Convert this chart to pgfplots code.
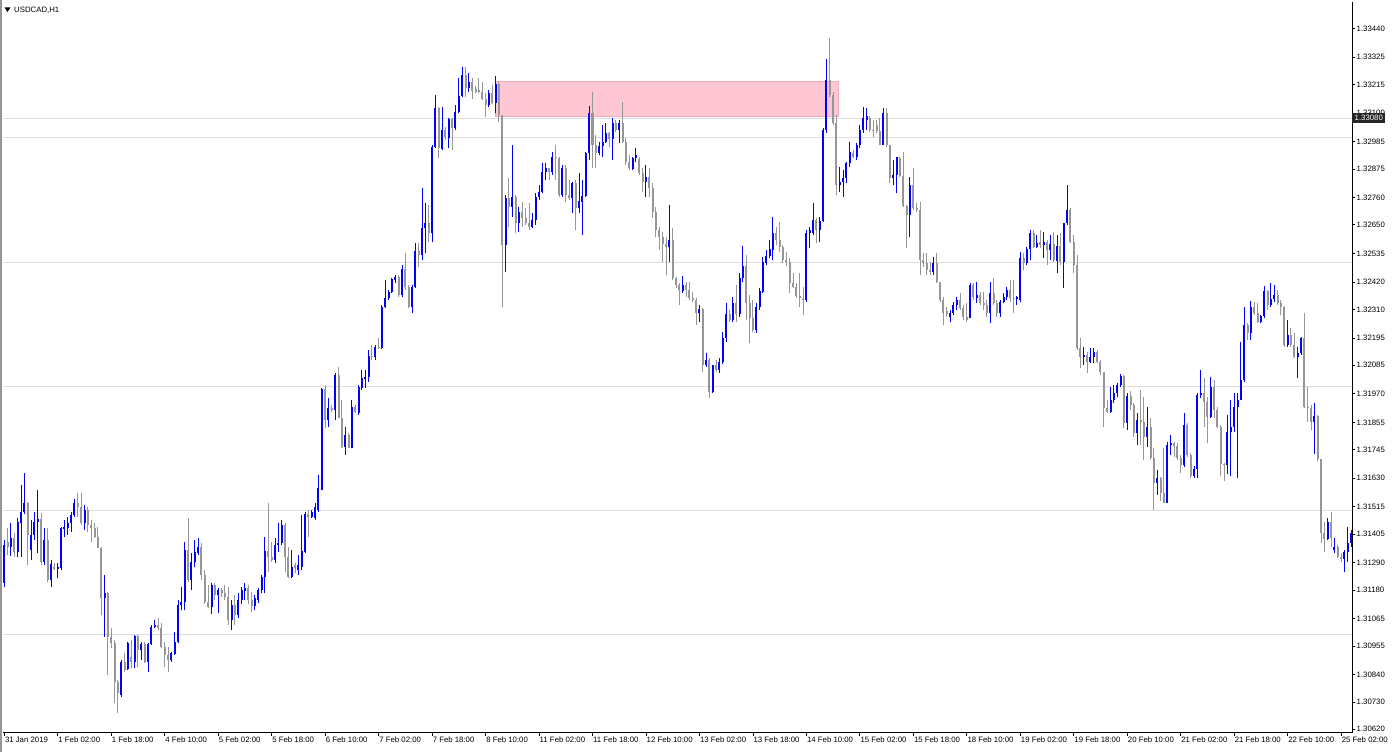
\documentclass[border=0pt]{standalone}
\usepackage{fontspec}
\setmainfont{Liberation Sans}
\usepackage{pgfplots}
\usepackage{pgfplotstable}
\pgfplotsset{compat=1.18}
\definecolor{cblue}{RGB}{0,0,255}
\definecolor{cgray}{RGB}{150,150,150}
\definecolor{gridc}{RGB}{222,222,222}
\definecolor{pinkfill}{RGB}{255,199,212}
\definecolor{pinkedge}{RGB}{240,170,190}
\pgfplotsset{candle/.style={only marks, mark=*, mark size=0pt, mark options={draw=none, fill=none}, forget plot,
  error bars/.cd, y dir=plus, y explicit, error mark=none}}
\pgfplotstableread{
i o h l c
0 1.31209 1.31382 1.31193 1.31362
1 1.31374 1.31430 1.31322 1.31354
2 1.31354 1.31450 1.31318 1.31390
3 1.31390 1.31410 1.31314 1.31334
4 1.31334 1.31471 1.31314 1.31454
5 1.31450 1.31603 1.31314 1.31495
6 1.31495 1.31652 1.31487 1.31531
7 1.31531 1.31535 1.31281 1.31402
8 1.31342 1.31463 1.31302 1.31402
9 1.31402 1.31495 1.31382 1.31454
10 1.31454 1.31583 1.31330 1.31467
11 1.31467 1.31491 1.31281 1.31294
12 1.31294 1.31430 1.31281 1.31382
13 1.31382 1.31430 1.31213 1.31221
14 1.31221 1.31302 1.31193 1.31285
15 1.31273 1.31289 1.31261 1.31265
16 1.31265 1.31289 1.31229 1.31273
17 1.31269 1.31434 1.31261 1.31430
18 1.31426 1.31463 1.31394 1.31434
19 1.31430 1.31475 1.31402 1.31450
20 1.31450 1.31495 1.31414 1.31483
21 1.31483 1.31547 1.31475 1.31531
22 1.31531 1.31571 1.31475 1.31515
23 1.31515 1.31571 1.31442 1.31450
24 1.31450 1.31523 1.31422 1.31503
25 1.31503 1.31515 1.31414 1.31442
26 1.31442 1.31463 1.31374 1.31430
27 1.31430 1.31450 1.31390 1.31394
28 1.31394 1.31434 1.31350 1.31350
29 1.31350 1.31354 1.31080 1.31149
30 1.31149 1.31241 1.30992 1.31169
31 1.31169 1.31173 1.30839 1.30992
32 1.30992 1.31028 1.30947 1.30968
33 1.30968 1.30980 1.30726 1.30811
34 1.30811 1.30819 1.30686 1.30766
35 1.30758 1.30899 1.30750 1.30891
36 1.30891 1.30927 1.30851 1.30859
37 1.30863 1.30972 1.30859 1.30968
38 1.30911 1.30980 1.30867 1.30891
39 1.30891 1.31000 1.30867 1.30996
40 1.30996 1.31000 1.30871 1.30939
41 1.30939 1.30972 1.30899 1.30964
42 1.30964 1.30972 1.30887 1.30891
43 1.30891 1.30968 1.30851 1.30964
44 1.30964 1.31040 1.30960 1.31032
45 1.31032 1.31060 1.31028 1.31040
46 1.31040 1.31068 1.31020 1.31028
47 1.31028 1.31048 1.30947 1.30951
48 1.30951 1.30972 1.30871 1.30919
49 1.30919 1.30951 1.30851 1.30899
50 1.30899 1.30931 1.30891 1.30927
51 1.30923 1.31012 1.30919 1.30972
52 1.30972 1.31141 1.30968 1.31120
53 1.31120 1.31193 1.31100 1.31133
54 1.31133 1.31374 1.31100 1.31342
55 1.31342 1.31471 1.31213 1.31221
56 1.31221 1.31330 1.31181 1.31294
57 1.31294 1.31382 1.31273 1.31334
58 1.31330 1.31390 1.31322 1.31354
59 1.31354 1.31370 1.31221 1.31241
60 1.31241 1.31261 1.31124 1.31133
61 1.31133 1.31201 1.31108 1.31112
62 1.31112 1.31209 1.31084 1.31201
63 1.31201 1.31209 1.31141 1.31161
64 1.31161 1.31189 1.31088 1.31181
65 1.31181 1.31189 1.31153 1.31169
66 1.31169 1.31201 1.31141 1.31153
67 1.31153 1.31193 1.31040 1.31060
68 1.31060 1.31141 1.31020 1.31120
69 1.31120 1.31161 1.31040 1.31080
70 1.31080 1.31169 1.31068 1.31141
71 1.31141 1.31193 1.31124 1.31181
72 1.31177 1.31209 1.31141 1.31189
73 1.31189 1.31201 1.31124 1.31141
74 1.31141 1.31173 1.31092 1.31116
75 1.31116 1.31161 1.31100 1.31149
76 1.31141 1.31189 1.31128 1.31181
77 1.31181 1.31241 1.31169 1.31233
78 1.31233 1.31394 1.31169 1.31338
79 1.31338 1.31531 1.31253 1.31314
80 1.31314 1.31374 1.31294 1.31302
81 1.31302 1.31390 1.31289 1.31362
82 1.31362 1.31450 1.31334 1.31370
83 1.31370 1.31463 1.31362 1.31442
84 1.31442 1.31450 1.31253 1.31314
85 1.31314 1.31354 1.31229 1.31233
86 1.31233 1.31342 1.31229 1.31273
87 1.31281 1.31289 1.31249 1.31269
88 1.31261 1.31322 1.31241 1.31281
89 1.31273 1.31483 1.31261 1.31338
90 1.31334 1.31495 1.31330 1.31487
91 1.31487 1.31503 1.31394 1.31475
92 1.31475 1.31503 1.31471 1.31495
93 1.31471 1.31531 1.31463 1.31515
94 1.31503 1.31644 1.31495 1.31591
95 1.31583 1.31994 1.31583 1.31990
96 1.31990 1.32006 1.31833 1.31865
97 1.31865 1.31953 1.31837 1.31913
98 1.31913 1.31925 1.31897 1.31905
99 1.31905 1.32054 1.31865 1.32046
100 1.32046 1.32078 1.31873 1.31873
101 1.31873 1.31945 1.31752 1.31756
102 1.31756 1.31837 1.31724 1.31805
103 1.31805 1.31813 1.31752 1.31752
104 1.31752 1.31945 1.31752 1.31917
105 1.31917 1.31925 1.31893 1.31897
106 1.31893 1.32006 1.31885 1.31998
107 1.31994 1.32066 1.31986 1.32034
108 1.32030 1.32066 1.31994 1.32038
109 1.32038 1.32147 1.32018 1.32122
110 1.32122 1.32167 1.32106 1.32118
111 1.32118 1.32167 1.32106 1.32159
112 1.32159 1.32195 1.32151 1.32155
113 1.32155 1.32328 1.32151 1.32320
114 1.32320 1.32428 1.32316 1.32356
115 1.32356 1.32388 1.32348 1.32380
116 1.32380 1.32436 1.32376 1.32432
117 1.32428 1.32448 1.32416 1.32440
118 1.32440 1.32448 1.32360 1.32368
119 1.32368 1.32489 1.32360 1.32473
120 1.32473 1.32537 1.32388 1.32400
121 1.32400 1.32408 1.32316 1.32320
122 1.32320 1.32408 1.32295 1.32400
123 1.32400 1.32577 1.32396 1.32545
124 1.32545 1.32577 1.32481 1.32529
125 1.32529 1.32798 1.32509 1.32638
126 1.32638 1.32738 1.32537 1.32658
127 1.32658 1.32730 1.32581 1.32617
128 1.32617 1.32972 1.32581 1.32963
129 1.32963 1.33173 1.32959 1.33120
130 1.33120 1.33124 1.32919 1.32959
131 1.32955 1.33124 1.32951 1.33032
132 1.33032 1.33044 1.32992 1.33004
133 1.33000 1.33080 1.32959 1.33076
134 1.33076 1.33080 1.32951 1.33040
135 1.33040 1.33132 1.33032 1.33104
136 1.33104 1.33241 1.33100 1.33169
137 1.33169 1.33285 1.33165 1.33253
138 1.33253 1.33285 1.33165 1.33201
139 1.33201 1.33261 1.33185 1.33225
140 1.33225 1.33241 1.33157 1.33189
141 1.33197 1.33209 1.33181 1.33185
142 1.33193 1.33241 1.33181 1.33185
143 1.33185 1.33225 1.33153 1.33157
144 1.33157 1.33181 1.33084 1.33132
145 1.33132 1.33193 1.33124 1.33181
146 1.33181 1.33213 1.33136 1.33140
147 1.33140 1.33249 1.33100 1.33217
148 1.33217 1.33225 1.33064 1.33092
149 1.33092 1.33092 1.32320 1.32569
150 1.32569 1.32770 1.32461 1.32758
151 1.32758 1.32839 1.32642 1.32722
152 1.32722 1.32972 1.32682 1.32762
153 1.32762 1.32770 1.32617 1.32658
154 1.32658 1.32722 1.32621 1.32703
155 1.32703 1.32742 1.32642 1.32678
156 1.32678 1.32718 1.32650 1.32658
157 1.32658 1.32738 1.32630 1.32642
158 1.32642 1.32699 1.32638 1.32670
159 1.32670 1.32778 1.32650 1.32762
160 1.32762 1.32811 1.32750 1.32782
161 1.32782 1.32899 1.32778 1.32863
162 1.32863 1.32899 1.32831 1.32879
163 1.32879 1.32879 1.32831 1.32863
164 1.32863 1.32943 1.32851 1.32923
165 1.32923 1.32972 1.32831 1.32919
166 1.32919 1.32923 1.32762 1.32770
167 1.32770 1.32891 1.32762 1.32879
168 1.32879 1.32891 1.32742 1.32770
169 1.32770 1.32831 1.32750 1.32758
170 1.32758 1.32823 1.32699 1.32819
171 1.32819 1.32831 1.32630 1.32718
172 1.32718 1.32859 1.32699 1.32746
173 1.32742 1.32831 1.32609 1.32766
174 1.32766 1.32943 1.32762 1.32939
175 1.32939 1.33128 1.32911 1.33100
176 1.33100 1.33185 1.32879 1.32972
177 1.32972 1.33012 1.32879 1.32939
178 1.32939 1.32984 1.32931 1.32967
179 1.32967 1.33052 1.32923 1.32984
180 1.32984 1.33060 1.32980 1.33020
181 1.33020 1.33024 1.32963 1.32996
182 1.32996 1.33080 1.32911 1.33060
183 1.33060 1.33072 1.33024 1.33032
184 1.33032 1.33072 1.32980 1.33060
185 1.33060 1.33144 1.32980 1.32984
186 1.32984 1.33000 1.32891 1.32903
187 1.32903 1.32931 1.32871 1.32879
188 1.32875 1.32923 1.32871 1.32919
189 1.32919 1.32959 1.32903 1.32931
190 1.32915 1.32923 1.32851 1.32859
191 1.32859 1.32879 1.32782 1.32823
192 1.32823 1.32891 1.32762 1.32843
193 1.32843 1.32879 1.32762 1.32798
194 1.32798 1.32819 1.32678 1.32703
195 1.32703 1.32722 1.32601 1.32630
196 1.32630 1.32642 1.32549 1.32601
197 1.32601 1.32621 1.32501 1.32573
198 1.32573 1.32601 1.32448 1.32561
199 1.32561 1.32730 1.32501 1.32589
200 1.32589 1.32638 1.32428 1.32436
201 1.32436 1.32440 1.32396 1.32408
202 1.32408 1.32416 1.32328 1.32388
203 1.32384 1.32444 1.32376 1.32408
204 1.32408 1.32420 1.32360 1.32388
205 1.32388 1.32420 1.32348 1.32356
206 1.32356 1.32380 1.32340 1.32348
207 1.32348 1.32356 1.32247 1.32295
208 1.32295 1.32328 1.32259 1.32312
209 1.32312 1.32316 1.32058 1.32086
210 1.32086 1.32135 1.32078 1.32106
211 1.32106 1.32114 1.31953 1.31978
212 1.31978 1.32086 1.31974 1.32086
213 1.32086 1.32106 1.32058 1.32066
214 1.32066 1.32114 1.32054 1.32098
215 1.32098 1.32219 1.32090 1.32195
216 1.32195 1.32336 1.32179 1.32291
217 1.32291 1.32308 1.32259 1.32267
218 1.32267 1.32360 1.32259 1.32336
219 1.32336 1.32408 1.32259 1.32291
220 1.32291 1.32456 1.32279 1.32436
221 1.32436 1.32565 1.32420 1.32485
222 1.32485 1.32529 1.32267 1.32336
223 1.32336 1.32368 1.32175 1.32275
224 1.32275 1.32348 1.32219 1.32227
225 1.32227 1.32336 1.32215 1.32320
226 1.32320 1.32396 1.32308 1.32384
227 1.32380 1.32521 1.32376 1.32501
228 1.32497 1.32549 1.32489 1.32525
229 1.32525 1.32589 1.32517 1.32553
230 1.32549 1.32682 1.32509 1.32617
231 1.32617 1.32642 1.32569 1.32589
232 1.32589 1.32662 1.32541 1.32561
233 1.32561 1.32569 1.32497 1.32509
234 1.32509 1.32541 1.32485 1.32501
235 1.32501 1.32517 1.32376 1.32416
236 1.32416 1.32456 1.32396 1.32400
237 1.32400 1.32416 1.32356 1.32364
238 1.32364 1.32456 1.32320 1.32356
239 1.32356 1.32400 1.32287 1.32348
240 1.32348 1.32630 1.32340 1.32617
241 1.32617 1.32642 1.32557 1.32630
242 1.32617 1.32738 1.32609 1.32670
243 1.32670 1.32678 1.32577 1.32630
244 1.32630 1.32682 1.32581 1.32666
245 1.32666 1.33040 1.32662 1.33032
246 1.33032 1.33318 1.33020 1.33233
247 1.33233 1.33402 1.33165 1.33173
248 1.33173 1.33185 1.33052 1.33060
249 1.33060 1.33092 1.32770 1.32811
250 1.32811 1.32883 1.32782 1.32823
251 1.32823 1.32871 1.32762 1.32839
252 1.32839 1.32903 1.32819 1.32899
253 1.32899 1.32984 1.32883 1.32943
254 1.32939 1.32951 1.32919 1.32923
255 1.32923 1.32980 1.32911 1.32972
256 1.32972 1.33052 1.32959 1.33032
257 1.33032 1.33124 1.33020 1.33080
258 1.33072 1.33120 1.33032 1.33088
259 1.33080 1.33088 1.33024 1.33032
260 1.33032 1.33072 1.33004 1.33028
261 1.33052 1.33072 1.33020 1.33028
262 1.33028 1.33080 1.32970 1.32972
263 1.32972 1.33120 1.32972 1.33100
264 1.33100 1.33120 1.32963 1.32972
265 1.32972 1.32972 1.32819 1.32839
266 1.32839 1.32911 1.32811 1.32851
267 1.32851 1.32923 1.32778 1.32923
268 1.32919 1.32923 1.32843 1.32847
269 1.32847 1.32943 1.32722 1.32726
270 1.32726 1.32730 1.32557 1.32690
271 1.32690 1.32843 1.32601 1.32811
272 1.32811 1.32879 1.32710 1.32718
273 1.32718 1.32738 1.32703 1.32710
274 1.32710 1.32742 1.32448 1.32509
275 1.32509 1.32537 1.32481 1.32497
276 1.32497 1.32537 1.32448 1.32469
277 1.32469 1.32501 1.32448 1.32461
278 1.32461 1.32521 1.32448 1.32497
279 1.32497 1.32537 1.32416 1.32420
280 1.32420 1.32420 1.32340 1.32348
281 1.32348 1.32360 1.32247 1.32295
282 1.32303 1.32320 1.32279 1.32291
283 1.32279 1.32308 1.32259 1.32295
284 1.32295 1.32340 1.32287 1.32328
285 1.32328 1.32360 1.32308 1.32348
286 1.32348 1.32376 1.32308 1.32316
287 1.32316 1.32328 1.32267 1.32279
288 1.32279 1.32336 1.32259 1.32267
289 1.32275 1.32416 1.32275 1.32408
290 1.32408 1.32416 1.32348 1.32360
291 1.32356 1.32420 1.32336 1.32368
292 1.32368 1.32380 1.32328 1.32336
293 1.32336 1.32380 1.32308 1.32328
294 1.32328 1.32348 1.32279 1.32295
295 1.32295 1.32420 1.32255 1.32376
296 1.32376 1.32436 1.32328 1.32336
297 1.32336 1.32348 1.32279 1.32295
298 1.32295 1.32348 1.32279 1.32340
299 1.32340 1.32376 1.32336 1.32360
300 1.32360 1.32400 1.32348 1.32388
301 1.32388 1.32428 1.32340 1.32356
302 1.32356 1.32428 1.32295 1.32352
303 1.32352 1.32364 1.32328 1.32360
304 1.32348 1.32541 1.32340 1.32517
305 1.32517 1.32537 1.32469 1.32497
306 1.32497 1.32561 1.32489 1.32553
307 1.32553 1.32630 1.32509 1.32617
308 1.32617 1.32630 1.32557 1.32561
309 1.32561 1.32609 1.32557 1.32577
310 1.32581 1.32630 1.32557 1.32569
311 1.32569 1.32621 1.32517 1.32581
312 1.32581 1.32589 1.32489 1.32549
313 1.32549 1.32609 1.32509 1.32573
314 1.32573 1.32621 1.32501 1.32509
315 1.32505 1.32609 1.32456 1.32565
316 1.32565 1.32617 1.32489 1.32501
317 1.32501 1.32658 1.32396 1.32658
318 1.32658 1.32811 1.32650 1.32710
319 1.32710 1.32718 1.32577 1.32581
320 1.32581 1.32609 1.32456 1.32489
321 1.32489 1.32529 1.32147 1.32155
322 1.32155 1.32195 1.32074 1.32118
323 1.32118 1.32159 1.32086 1.32126
324 1.32126 1.32139 1.32054 1.32098
325 1.32098 1.32155 1.32094 1.32118
326 1.32118 1.32155 1.32094 1.32139
327 1.32139 1.32147 1.32094 1.32098
328 1.32098 1.32106 1.32046 1.32058
329 1.32058 1.32058 1.31837 1.31913
330 1.31913 1.31945 1.31893 1.31897
331 1.31897 1.31998 1.31893 1.31945
332 1.31945 1.32006 1.31933 1.31974
333 1.31974 1.32014 1.31957 1.32006
334 1.32006 1.32050 1.31998 1.32042
335 1.32042 1.32046 1.31833 1.31853
336 1.31853 1.31974 1.31825 1.31961
337 1.31961 1.31982 1.31905 1.31925
338 1.31925 1.31933 1.31797 1.31813
339 1.31813 1.31893 1.31764 1.31865
340 1.31865 1.31986 1.31764 1.31857
341 1.31857 1.31957 1.31704 1.31797
342 1.31797 1.31917 1.31756 1.31837
343 1.31837 1.31873 1.31704 1.31712
344 1.31712 1.31752 1.31503 1.31611
345 1.31611 1.31663 1.31563 1.31631
346 1.31631 1.31635 1.31539 1.31571
347 1.31571 1.31752 1.31531 1.31531
348 1.31531 1.31776 1.31531 1.31764
349 1.31764 1.31805 1.31724 1.31772
350 1.31772 1.31776 1.31716 1.31760
351 1.31760 1.31772 1.31704 1.31712
352 1.31712 1.31724 1.31652 1.31684
353 1.31684 1.31893 1.31676 1.31845
354 1.31845 1.31853 1.31716 1.31724
355 1.31724 1.31732 1.31631 1.31639
356 1.31639 1.31680 1.31631 1.31668
357 1.31668 1.31974 1.31631 1.31965
358 1.31965 1.32066 1.31953 1.31974
359 1.31974 1.32034 1.31837 1.31937
360 1.31937 1.31957 1.31772 1.31877
361 1.31877 1.32038 1.31873 1.31998
362 1.31998 1.32026 1.31873 1.31905
363 1.31905 1.31917 1.31833 1.31837
364 1.31837 1.31845 1.31639 1.31688
365 1.31688 1.31692 1.31619 1.31684
366 1.31684 1.31885 1.31648 1.31817
367 1.31817 1.31945 1.31639 1.31837
368 1.31837 1.31974 1.31817 1.31917
369 1.31917 1.31974 1.31631 1.31945
370 1.31945 1.32179 1.31945 1.32026
371 1.32026 1.32320 1.32018 1.32247
372 1.32247 1.32255 1.32187 1.32215
373 1.32215 1.32344 1.32187 1.32320
374 1.32320 1.32340 1.32287 1.32295
375 1.32295 1.32336 1.32255 1.32259
376 1.32259 1.32287 1.32255 1.32283
377 1.32283 1.32404 1.32275 1.32384
378 1.32384 1.32388 1.32308 1.32328
379 1.32328 1.32416 1.32320 1.32352
380 1.32352 1.32408 1.32340 1.32368
381 1.32368 1.32388 1.32328 1.32336
382 1.32336 1.32348 1.32287 1.32320
383 1.32320 1.32324 1.32159 1.32167
384 1.32167 1.32267 1.32159 1.32207
385 1.32207 1.32235 1.32159 1.32167
386 1.32167 1.32215 1.32114 1.32118
387 1.32118 1.32159 1.32034 1.32135
388 1.32135 1.32199 1.32126 1.32195
389 1.32195 1.32295 1.31913 1.31917
390 1.31917 1.31998 1.31857 1.31913
391 1.31913 1.31925 1.31825 1.31857
392 1.31857 1.31933 1.31728 1.31881
393 1.31881 1.31885 1.31700 1.31708
394 1.31708 1.31708 1.31370 1.31410
395 1.31410 1.31454 1.31334 1.31386
396 1.31386 1.31471 1.31382 1.31454
397 1.31454 1.31495 1.31354 1.31390
398 1.31342 1.31390 1.31330 1.31354
399 1.31354 1.31362 1.31310 1.31314
400 1.31314 1.31330 1.31294 1.31306
401 1.31306 1.31342 1.31253 1.31334
402 1.31334 1.31434 1.31294 1.31370
403 1.31370 1.31422 1.31354 1.31410
}\candles
\begin{document}
\begin{tikzpicture}
\path[use as bounding box] (0pt,0pt) rectangle (1392pt,752pt);
\fill[white] (0pt,0pt) rectangle (1392pt,752pt);
\begin{axis}[
  at={(3pt,19pt)}, anchor=south west, scale only axis,
  width=1349pt, height=731pt,
  xmin=-0.39, xmax=403.26,
  ymin=1.30605, ymax=1.33547,
  axis x line*=bottom, axis y line*=right,
  axis line style={black, line width=1pt, -},
  tick align=outside, major tick length=3pt,
  tick style={black, line width=0.8pt},
  font=\fontsize{7.8}{9}\selectfont,
  xtick={0,16,...,400},
  xticklabels={31 Jan 2019,1 Feb 02:00,1 Feb 18:00,4 Feb 10:00,5 Feb 02:00,5 Feb 18:00,6 Feb 10:00,7 Feb 02:00,7 Feb 18:00,8 Feb 10:00,11 Feb 02:00,11 Feb 18:00,12 Feb 10:00,13 Feb 02:00,13 Feb 18:00,14 Feb 10:00,15 Feb 02:00,15 Feb 18:00,18 Feb 10:00,19 Feb 02:00,19 Feb 18:00,20 Feb 10:00,21 Feb 02:00,21 Feb 18:00,22 Feb 10:00,25 Feb 02:00},
  xticklabel style={anchor=north west, inner xsep=0pt, inner ysep=1pt, xshift=0.5pt},
  ytick={1.30620,1.30730,1.30840,1.30955,1.31065,1.31180,1.31290,1.31405,1.31515,1.31630,1.31745,1.31855,1.31970,1.32085,1.32195,1.32310,1.32420,1.32535,1.32650,1.32760,1.32875,1.32985,1.33100,1.33215,1.33325,1.33440},
  yticklabels={1.30620,1.30730,1.30840,1.30955,1.31065,1.31180,1.31290,1.31405,1.31515,1.31630,1.31745,1.31855,1.31970,1.32085,1.32195,1.32310,1.32420,1.32535,1.32650,1.32760,1.32875,1.32985,1.33100,1.33215,1.33325,1.33440},
  yticklabel style={anchor=west, inner xsep=1.5pt},
  every tick label/.append style={font=\fontsize{7.8}{9}\selectfont},
]
% horizontal level lines
\addplot[gridc, line width=1pt, forget plot] coordinates {(-2,1.31000) (406,1.31000)};
\addplot[gridc, line width=1pt, forget plot] coordinates {(-2,1.31500) (406,1.31500)};
\addplot[gridc, line width=1pt, forget plot] coordinates {(-2,1.32000) (406,1.32000)};
\addplot[gridc, line width=1pt, forget plot] coordinates {(-2,1.32500) (406,1.32500)};
\addplot[gridc, line width=1pt, forget plot] coordinates {(-2,1.33000) (406,1.33000)};
\addplot[gridc, line width=1pt, forget plot] coordinates {(-2,1.33080) (406,1.33080)};
% pink zone
\addplot[fill=pinkfill, draw=pinkedge, line width=0.6pt, forget plot] coordinates {(146.8,1.33088) (249.5,1.33088) (249.5,1.33229) (146.8,1.33229)} -- cycle;
% wicks
\addplot[candle, error bar style={cgray, line width=1pt, solid}]
  table[x=i, y expr={\thisrow{c}<\thisrow{o} ? \thisrow{l} : nan}, y error plus expr={\thisrow{h}-\thisrow{l}}] {\candles};
\addplot[candle, error bar style={cblue, line width=1pt, solid}]
  table[x=i, y expr={\thisrow{c}<\thisrow{o} ? nan : \thisrow{l}}, y error plus expr={\thisrow{h}-\thisrow{l}}] {\candles};
% bodies
\addplot[candle, error bar style={cgray, line width=2pt, solid}]
  table[x=i, y expr={\thisrow{c}<\thisrow{o} ? \thisrow{c} : nan}, y error plus expr={\thisrow{o}-\thisrow{c}}] {\candles};
\addplot[candle, error bar style={cblue, line width=2pt, solid}]
  table[x=i, y expr={\thisrow{c}<\thisrow{o} ? nan : \thisrow{o}}, y error plus expr={\thisrow{c}-\thisrow{o}}] {\candles};
\coordinate (pricelabel) at (axis cs:403.26,1.33080);
\end{axis}
% left window border
\fill[cgray] (0pt,0pt) rectangle (2pt,752pt);
% title
\fill[black] (4.5pt,744.5pt) -- (10.5pt,744.5pt) -- (7.5pt,740pt) -- cycle;
\node[anchor=west, inner sep=0pt, font=\fontsize{7.8}{9}\selectfont] at (14pt,742pt) {USDCAD,H1};
% current level label
\node[anchor=west, fill=black!85, text=white, inner xsep=2.5pt, inner ysep=2.4pt, font=\fontsize{7.8}{9}\selectfont] at (pricelabel) {1.33080};
\end{tikzpicture}
\end{document}
